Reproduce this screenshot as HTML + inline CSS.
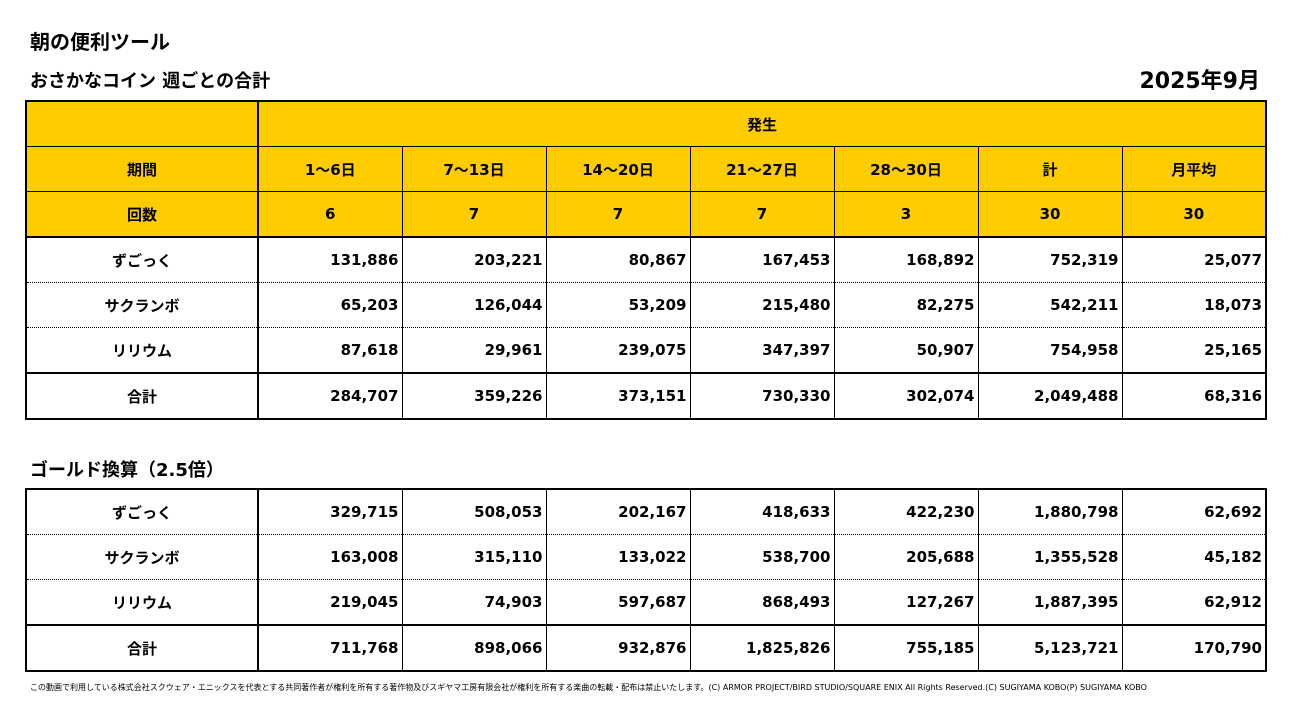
<!DOCTYPE html>
<html><head><meta charset="utf-8"><style>
body{margin:0;width:1291px;height:725px;background:#fff;font-family:"DejaVu Sans","Noto Sans CJK JP",sans-serif;font-weight:bold;color:#000;position:relative;overflow:hidden}
.a{position:absolute;white-space:nowrap}
table{position:absolute;left:25px;border-collapse:collapse;table-layout:fixed;font-size:15px}
td{height:44px;padding:0 3px;border-left:1px solid #000;border-right:1px solid #000;text-align:right}
td:first-child{text-align:center;border-right:2px solid #000}
tr.h td{background:#FFCC00;text-align:center;border-bottom:1px solid #000}
tr.hl td{border-bottom:2px solid #000}
tr.d td{border-bottom:1px dotted #000}
tr.t td{border-top:2px solid #000}
table{border:2px solid #000}
</style></head><body>
<div class="a" style="left:30px;top:26px;font-size:20px">朝の便利ツール</div>
<div class="a" style="left:30px;top:67px;font-size:18px">おさかなコイン 週ごとの合計</div>
<div class="a" style="right:31px;top:63px;font-size:22px">2025年9月</div>
<table style="top:100px;width:1240px">
<colgroup><col style="width:232px"><col style="width:144px"><col style="width:144px"><col style="width:144px"><col style="width:144px"><col style="width:144px"><col style="width:144px"><col style="width:144px"></colgroup>
<tr class="h"><td></td><td colspan="7">発生</td></tr>
<tr class="h"><td>期間</td><td>1～6日</td><td>7～13日</td><td>14～20日</td><td>21～27日</td><td>28～30日</td><td>計</td><td>月平均</td></tr>
<tr class="h hl"><td>回数</td><td>6</td><td>7</td><td>7</td><td>7</td><td>3</td><td>30</td><td>30</td></tr>
<tr class="d"><td>ずごっく</td><td>131,886</td><td>203,221</td><td>80,867</td><td>167,453</td><td>168,892</td><td>752,319</td><td>25,077</td></tr>
<tr class="d"><td>サクランボ</td><td>65,203</td><td>126,044</td><td>53,209</td><td>215,480</td><td>82,275</td><td>542,211</td><td>18,073</td></tr>
<tr><td>リリウム</td><td>87,618</td><td>29,961</td><td>239,075</td><td>347,397</td><td>50,907</td><td>754,958</td><td>25,165</td></tr>
<tr class="t"><td>合計</td><td>284,707</td><td>359,226</td><td>373,151</td><td>730,330</td><td>302,074</td><td>2,049,488</td><td>68,316</td></tr>
</table>
<div class="a" style="left:30px;top:456px;font-size:18px">ゴールド換算（2.5倍）</div>
<table style="top:488px;width:1240px">
<colgroup><col style="width:232px"><col style="width:144px"><col style="width:144px"><col style="width:144px"><col style="width:144px"><col style="width:144px"><col style="width:144px"><col style="width:144px"></colgroup>
<tr class="d"><td>ずごっく</td><td>329,715</td><td>508,053</td><td>202,167</td><td>418,633</td><td>422,230</td><td>1,880,798</td><td>62,692</td></tr>
<tr class="d"><td>サクランボ</td><td>163,008</td><td>315,110</td><td>133,022</td><td>538,700</td><td>205,688</td><td>1,355,528</td><td>45,182</td></tr>
<tr><td>リリウム</td><td>219,045</td><td>74,903</td><td>597,687</td><td>868,493</td><td>127,267</td><td>1,887,395</td><td>62,912</td></tr>
<tr class="t"><td>合計</td><td>711,768</td><td>898,066</td><td>932,876</td><td>1,825,826</td><td>755,185</td><td>5,123,721</td><td>170,790</td></tr>
</table>
<div class="a" style="left:30px;top:682px;font-size:8px;font-weight:normal">この動画で利用している株式会社スクウェア・エニックスを代表とする共同著作者が権利を所有する著作物及びスギヤマ工房有限会社が権利を所有する楽曲の転載・配布は禁止いたします。(C) ARMOR PROJECT/BIRD STUDIO/SQUARE ENIX All Rights Reserved.(C) SUGIYAMA KOBO(P) SUGIYAMA KOBO</div>
</body></html>
